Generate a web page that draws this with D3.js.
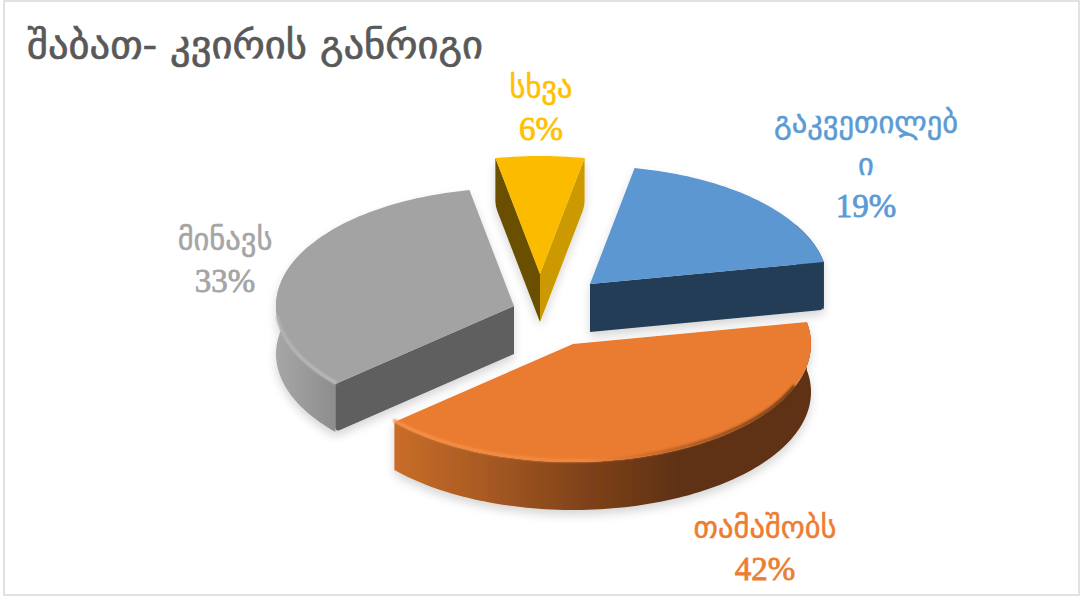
<!DOCTYPE html>
<html><head><meta charset="utf-8">
<script src="https://cdn.jsdelivr.net/npm/d3@7"></script>
<style>html,body{margin:0;padding:0;background:#fff}svg{display:block}</style>
</head><body><div id="c"></div>
<script>
const titleText = "შაბათ- კვირის განრიგი";
const categories = ["გაკვეთილებ|ი", "თამაშობს", "მინავს", "სხვა"];
const values = [19, 41.51, 33.49, 6];

// styling / layout (kept apart from the data)
const topColors = ["#5b97d2", "#ea7b30", "#a3a3a3", "#fbbc00"];
const labelColors = ["#5b9bd5", "#ed7d31", "#a5a5a5", "#ffc000"];
const startFace = ["#243e55", "#5a2f12", "#5e5e5e", "#6b4f00"];
const endFace = ["#243e55", "#5a2f12", "#5e5e5e", "#cc9a00"];
const apexX = [590, 573, 514, 540];
const apexY = [284, 344, 306, 274];
const labelX = [866, 765, 225, 541];
const labelY = [133, 538, 250, 98];
const drawOrder = [2, 3, 0, 1];
const W = 1081, H = 599, RX = 238, RY = 118, DEPTH = 48;
const rad = d => d * Math.PI / 180;

const svg = d3.select("#c").append("svg").attr("width", W).attr("height", H);
const defs = svg.append("defs");
const f = defs.append("filter").attr("id", "sh").attr("x", "-15%").attr("y", "-15%").attr("width", "130%").attr("height", "135%");
f.append("feDropShadow").attr("dx", 0).attr("dy", 5).attr("stdDeviation", 5).attr("flood-color", "#000").attr("flood-opacity", 0.16);
defs.append("filter").attr("id", "soft").append("feGaussianBlur").attr("stdDeviation", 0.9);

function grad(id, x1, x2, stops) {
  const g = defs.append("linearGradient").attr("id", id).attr("gradientUnits", "userSpaceOnUse")
    .attr("x1", x1).attr("x2", x2).attr("y1", 0).attr("y2", 0);
  stops.forEach(s => g.append("stop").attr("offset", s[0]).attr("stop-color", s[1]));
}
grad("wall1", 398, 812, [[0, "#c76c29"], [.2, "#aa5b23"], [.45, "#7f421a"], [.68, "#5e3112"], [1, "#5e3112"]]);
grad("wall2", 277, 340, [[0, "#a6a6a6"], [.5, "#999"], [1, "#8b8b8b"]]);
grad("rim1", 398, 812, [[0, "#f6934c"], [.45, "#f3893f"], [.62, "#c9672a"], [.8, "#8a4a1e"], [1, "#5e3112"]]);
grad("rim2", 277, 340, [[0, "#b4b4b4"], [1, "#bcbcbc"]]);
grad("wall0", 800, 830, [[0, "#243e55"], [1, "#243e55"]]);
grad("wall3", 500, 590, [[0, "#6b4f00"], [1, "#cc9a00"]]);
const wallFill = ["url(#wall0)", "url(#wall1)", "url(#wall2)", "url(#wall3)"];
const rimFill = [null, "url(#rim1)", "url(#rim2)", null];

const pie = d3.pie().sort(null).startAngle(rad(10.8)).endAngle(rad(370.8));
const arcs = pie(values);
const line = d3.line();

const pt = (i, a, z = 0) => [apexX[i] + RX * Math.sin(a), apexY[i] - RY * Math.cos(a) + z];
const sample = (a0, a1) => {
  const n = Math.max(2, Math.ceil((a1 - a0) / rad(1.5)));
  return d3.range(n + 1).map(k => a0 + (a1 - a0) * k / n);
};

// border
svg.append("rect").attr("x", 4).attr("y", 1).attr("width", 1075).attr("height", 594)
  .attr("fill", "#fff").attr("stroke", "#d9d9d9").attr("stroke-width", 1.5);

drawOrder.forEach(i => {
  const d = arcs[i], a0 = d.startAngle, a1 = d.endAngle;
  const g = svg.append("g").attr("filter", "url(#sh)");
  const apex = [apexX[i], apexY[i]];
  const low = [apex[0], apex[1] + DEPTH];

  // outer wall: the front part, plus the shoulders hidden by the top surface
  const w0 = Math.max(a0, rad(60)), w1 = Math.min(a1, rad(300));
  if (w1 > w0) {
    const angs = sample(w0, w1);
    const ring = angs.map(a => pt(i, a)).concat(angs.slice().reverse().map(a => pt(i, a, DEPTH)));
    g.append("path").attr("d", line(ring) + "Z").attr("fill", wallFill[i]);
  }
  // cut faces
  const face = (a, col) => {
    const e = pt(i, a), r = 5;
    const eb = pt(i, a, DEPTH);
    const t = r / Math.hypot(eb[0] - low[0], eb[1] - low[1]);
    const q = [eb[0] + (low[0] - eb[0]) * t, eb[1] + (low[1] - eb[1]) * t];
    g.append("path").attr("d",
      `M${apex}L${e}L${eb[0]},${eb[1] - r}Q${eb} ${q}L${low}Z`).attr("fill", col);
  };
  if (Math.cos(a0 - rad(90)) < 0) face(a0, startFace[i]);
  if (Math.cos(a1 + rad(90)) < 0) face(a1, endFace[i]);
  // top surface
  const top = [apex].concat(sample(a0, a1).map(a => pt(i, a)));
  g.append("path").attr("d", line(top) + "Z").attr("fill", topColors[i]);
  // bevelled rim along the front edge
  if (rimFill[i]) {
    const rim = sample(Math.max(a0, rad(112)), Math.min(a1, rad(264))).map(a => {
      const p = pt(i, a); return [p[0], p[1] - 1.5];
    });
    g.append("path").attr("d", line(rim)).attr("fill", "none").attr("stroke", rimFill[i])
      .attr("stroke-width", 3).attr("stroke-linecap", "round").attr("filter", "url(#soft)");
  }
});

// title
svg.append("text").attr("x", 27).attr("y", 58).attr("font-family", "'DejaVu Sans'")
  .attr("font-size", 38).attr("fill", "#595959").attr("stroke", "#595959").attr("stroke-width", 0.7)
  .attr("textLength", 456).attr("lengthAdjust", "spacingAndGlyphs").text(titleText);

// labels
categories.forEach((c, i) => {
  const parts = c.split("|").concat(d3.format(".0f")(values[i]) + "%");
  parts.forEach((t, k) => {
    const isPct = k === parts.length - 1;
    svg.append("text").attr("x", labelX[i]).attr("y", labelY[i] + k * 42)
      .attr("text-anchor", "middle").attr("fill", labelColors[i])
      .attr("stroke", labelColors[i]).attr("stroke-width", isPct ? 0.8 : 0.5)
      .attr("font-family", isPct ? "'Liberation Serif'" : "'DejaVu Sans'")
      .attr("font-size", isPct ? 33 : 30.5).text(t);
  });
});
</script></body></html>
